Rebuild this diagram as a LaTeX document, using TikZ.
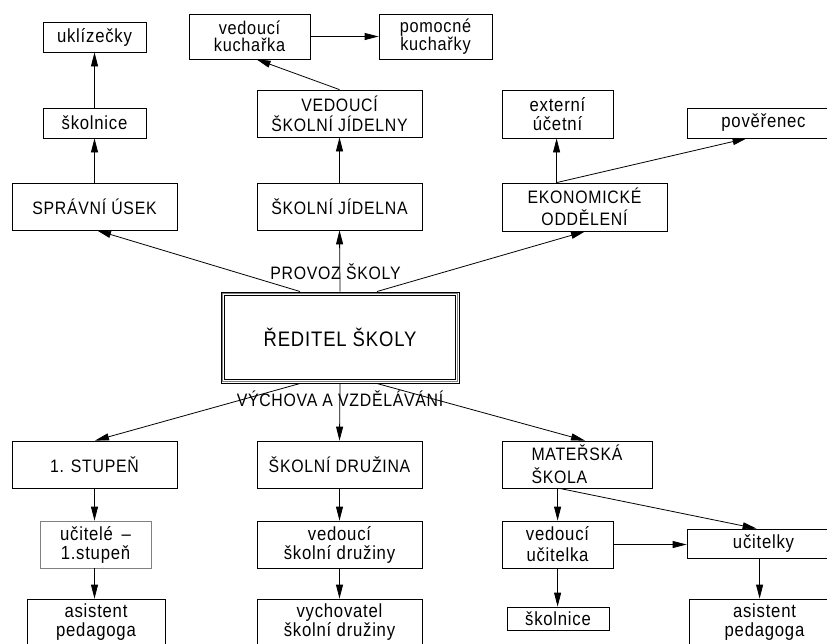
\documentclass[tikz,border=0pt]{standalone}
\usepackage{fontspec}
\setmainfont[FakeStretch=0.88,LetterSpace=4]{Liberation Sans}
\usetikzlibrary{arrows.meta,calc}
\begin{document}
\begin{tikzpicture}[x=1pt,y=-1pt,
  box/.style={draw, line width=0.8pt, inner sep=0pt, align=center},
  capsf/.style={font=\fontsize{18}{20}\selectfont},
  lowf/.style={font=\fontsize{19}{19}\selectfont},
  arr/.style={line width=0.8pt, -{Triangle[length=14pt,width=7pt]}},
  lbl/.style={inner sep=0pt, font=\fontsize{18}{20}\selectfont}]
\useasboundingbox (0,0) rectangle (827,643);
\clip (0,0) rectangle (827,643);
% top left column
\node[box, lowf, minimum width=103pt, minimum height=30pt] (ukl) at (94.5,37) {uklízečky};
\node[box, lowf, minimum width=103pt, minimum height=30pt] (skol1) at (94.5,123) {školnice};
\node[box, capsf, minimum width=165pt, minimum height=47pt] (sprav) at (94.5,206.5) {SPRÁVNÍ ÚSEK};
% top middle column
\node[box, font=\fontsize{18.5}{17.5}\selectfont, minimum width=121pt, minimum height=45pt] (vkuch) at (249.5,36.5) {vedoucí\\kuchařka};
\node[box, font=\fontsize{18.5}{17.5}\selectfont, minimum width=113pt, minimum height=45pt] (pkuch) at (435.5,36.5) {pomocné\\kuchařky};
\node[box, capsf, minimum width=165pt, minimum height=47pt] (vsj) at (339.5,113.5) {VEDOUCÍ\\ŠKOLNÍ JÍDELNY};
\node[box, capsf, minimum width=165pt, minimum height=47pt] (sj) at (339.5,206.5) {ŠKOLNÍ JÍDELNA};
% top right column
\node[box, font=\fontsize{19}{19}\selectfont, minimum width=111pt, minimum height=48pt] (ext) at (557.5,114) {externí\\účetní};
\node[box, lowf, minimum width=153pt, minimum height=30pt] (pover) at (763.5,123) {pověřenec};
\node[box, font=\fontsize{18}{22}\selectfont, minimum width=165pt, minimum height=48pt] (eko) at (584.5,207) {EKONOMICKÉ\\ODDĚLENÍ};
% director
\node[draw, line width=1pt, inner sep=0pt, minimum width=238pt, minimum height=91pt,
      font=\fontsize{21}{24}\selectfont] (red) at (340,337.5) {ŘEDITEL ŠKOLY};
\draw[gray, line width=1pt] ($(red.north west)+(2,2)$) rectangle ($(red.south east)+(-2,-2)$);
\draw[line width=0.8pt] ($(red.north west)+(3.8,3.8)$) rectangle ($(red.south east)+(-3.8,-3.8)$);
\node[lbl] (provoz) at (335.5,272) {PROVOZ ŠKOLY};
\node[lbl] (vych) at (340,399) {VÝCHOVA A VZDĚLÁVÁNÍ};
% bottom left column
\node[box, capsf, minimum width=165pt, minimum height=47pt] (st1) at (94.5,464.5) {1. STUPEŇ};
\node[box, lowf, draw=gray, font=\fontsize{19}{19}\selectfont, minimum width=111pt, minimum height=47pt] (ucit1) at (95.5,544.5) {učitelé \,–\\1.stupeň};
\node[box, lowf, minimum width=138pt, minimum height=46pt] (asist1) at (96,622) {asistent\\pedagoga};
% bottom middle column
\node[box, capsf, minimum width=165pt, minimum height=47pt] (sd) at (339.5,464.5) {ŠKOLNÍ DRUŽINA};
\node[box, lowf, minimum width=165pt, minimum height=47pt] (vsd) at (339.5,544.5) {vedoucí\\školní družiny};
\node[box, lowf, minimum width=165pt, minimum height=46pt] (vychov) at (339.5,622) {vychovatel\\školní družiny};
% bottom right column
\node[box, font=\fontsize{18}{23}\selectfont, align=left, minimum width=150pt, minimum height=47pt] (ms) at (577,464.5) {MATEŘSKÁ\\ŠKOLA};
\node[box, font=\fontsize{19}{21}\selectfont, minimum width=111pt, minimum height=47pt] (vu) at (557.5,544.5) {vedoucí\\učitelka};
\node[box, lowf, minimum width=153pt, minimum height=29pt] (ucitelky) at (763.5,543.5) {učitelky};
\node[box, lowf, minimum width=102pt, minimum height=23pt] (skol2) at (558,618.5) {školnice};
\node[box, lowf, minimum width=151pt, minimum height=46pt] (asist2) at (764.5,622) {asistent\\pedagoga};
% connectors top
\draw[arr] (sprav.north) -- (skol1.south);
\draw[arr] (skol1.north) -- (ukl.south);
\draw[arr] (vsj.north) -- ($(vkuch.south west)+(68,0)$);
\draw[arr] (vkuch.east) -- (pkuch.west);
\draw[arr] (sj.north) -- (vsj.south);
\coordinate (ekotop) at ($(eko.north west)+(55,0)$);
\draw[arr] (ekotop) -- (ekotop |- ext.south);
\draw[arr] (ekotop) -- ($(pover.south west)+(60,0)$);
\draw[arr] (red.north) -- (sj.south);
\draw[arr] ($(red.north)+(-40,0)$) -- ($(sprav.south)+(2.5,0)$);
\draw[arr] ($(red.north)+(37,0)$) -- ($(eko.south)+(0.5,0)$);
% connectors bottom
\draw[arr] ($(red.south)+(-40,0)$) -- ($(st1.north)+(0.5,0)$);
\draw[arr] (red.south) -- (sd.north);
\draw[arr] ($(red.south)+(37,0)$) -- ($(ms.north)+(8,0)$);
\draw[arr] (st1.south) -- (st1.south |- ucit1.north);
\draw[arr] (st1.south |- ucit1.south) -- (st1.south |- asist1.north);
\draw[arr] (sd.south) -- (vsd.north);
\draw[arr] (vsd.south) -- (vychov.north);
\coordinate (msbot) at ($(ms.south west)+(56,0)$);
\draw[arr] (msbot) -- (msbot |- vu.north);
\draw[arr] ($(ms.south west)+(58,0)$) -- ($(ucitelky.north west)+(70,0)$);
\draw[arr] (vu.east) -- (vu.east -| ucitelky.west);
\draw[arr] (msbot |- vu.south) -- (msbot |- skol2.north);
\coordinate (ucbot) at ($(ucitelky.south west)+(73,0)$);
\draw[arr] (ucbot) -- (ucbot |- asist2.north);
\end{tikzpicture}
\end{document}
